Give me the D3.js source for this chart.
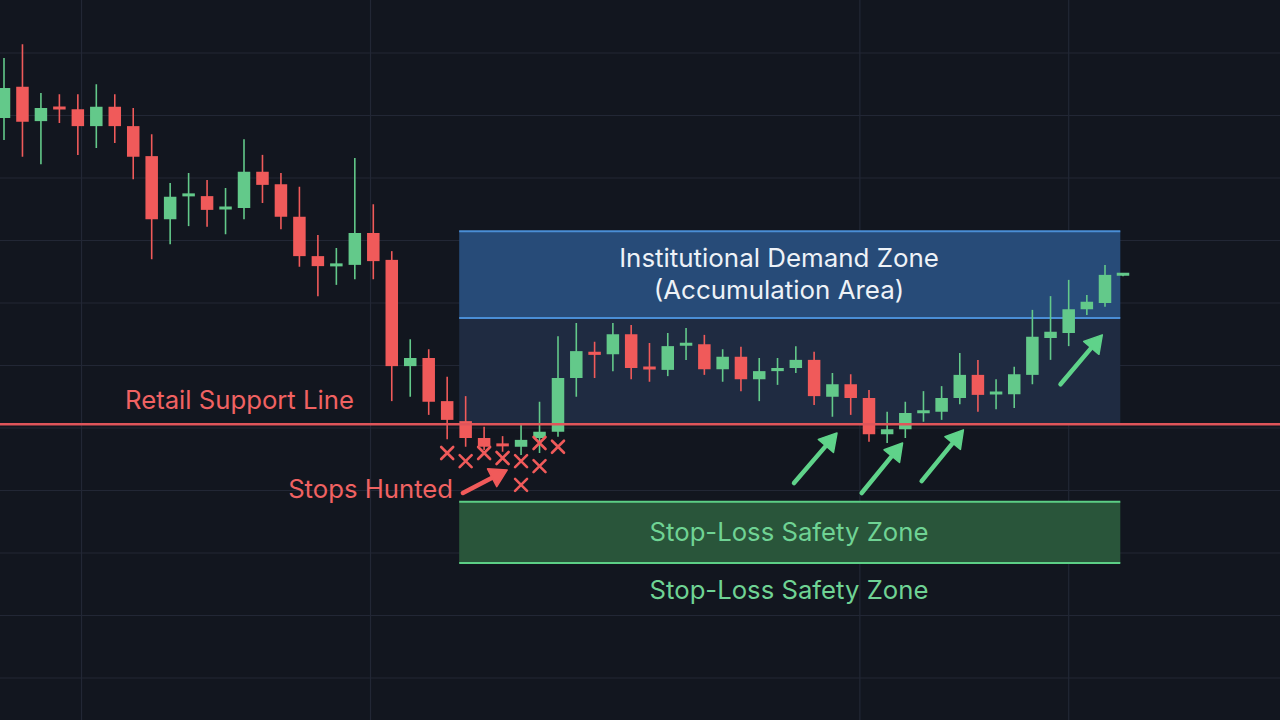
<!DOCTYPE html>
<html><head><meta charset="utf-8">
<script src="https://cdn.jsdelivr.net/npm/d3@7"></script>
<style>
html,body{margin:0;padding:0;background:#12161f;}
svg{display:block;}
text{font-family:Inter,"Noto Sans",sans-serif;}
</style></head>
<body>
<svg id="chart" width="1280" height="720"></svg>
<script>
// ---- data ----
const opens  = [149.6,154.6,149.1,151.2,151.0,148.3,151.4,148.3,143.5,133.4,137.0,137.1,134.9,135.2,141.0,139.0,133.8,127.5,125.9,126.1,131.2,126.9,109.9,111.2,104.3,101.1,98.4,97.3,97.0,98.4,99.4,108.0,112.2,111.8,115.0,109.6,109.3,113.0,113.4,109.4,111.4,107.8,109.1,109.6,110.9,105.0,107.0,104.8,99.0,99.8,102.2,102.6,104.8,108.5,105.3,105.4,108.5,114.4,115.2,119.0,120.0,124.3];
const highs  = [159.2,161.4,153.6,153.4,153.4,155.0,153.4,151.2,147.0,139.2,140.8,139.7,138.4,146.2,143.7,140.8,138.6,130.9,128.8,143.2,135.8,128.3,114.2,112.6,108.2,105.1,100.2,98.7,100.6,104.2,114.7,116.8,113.8,116.8,116.5,113.6,115.2,116.0,114.9,112.6,113.0,111.2,111.2,113.1,112.2,108.8,108.6,106.1,102.6,104.2,105.9,106.7,112.0,110.9,107.8,109.8,118.9,121.1,123.7,121.3,126.1,124.6];
const lows   = [146.1,143.4,142.2,148.8,143.7,144.8,145.6,139.8,127.0,129.4,132.3,132.2,131.0,133.4,136.0,131.8,125.8,121.1,122.9,123.8,123.8,104.3,105.0,102.1,98.2,97.0,96.5,96.2,95.7,96.0,98.6,105.0,108.0,109.1,107.8,107.4,108.3,110.9,108.5,107.4,105.9,104.3,106.9,108.8,103.7,101.8,102.1,97.8,97.6,98.4,101.0,101.3,103.8,102.6,103.0,103.2,107.0,110.9,113.1,118.1,119.4,124.3];
const closes = [154.4,149.0,151.2,150.9,148.3,151.4,148.3,143.4,133.4,137.0,137.3,134.9,135.2,141.0,138.9,133.8,127.5,125.9,126.1,131.2,126.7,109.9,111.2,104.2,101.3,98.4,97.0,97.0,98.1,99.4,108.0,112.3,111.7,115.0,109.6,109.4,113.1,113.4,109.4,111.4,107.8,109.1,109.6,110.9,105.1,107.0,104.8,99.0,99.8,102.4,102.6,104.8,108.5,105.3,105.6,108.6,114.6,115.4,119.0,120.2,124.5,124.6];

const gridPrices = [40,50,60,70,80,90,100,110,120,130,140,150,160];
const gridIndices = [4.2,19.85,46.5,58.0];

const supportPrice = 100.6;
const demandTop = 131.5, demandMid = 117.6, demandBottom = 100.6;
const safetyTop = 88.2, safetyBottom = 78.4;
const zoneStart = 24.65, zoneEnd = 60.85;

const stopMarks = [[24,96.0],[25,94.7],[26,96.0],[27,95.2],[28,94.7],[29,93.9],[28,90.9],[29,97.6],[30,97.0]];
const redArrows = [[24.85,89.6,27.25,93.3]];
const greenArrows = [[42.9,91.2,45.25,99.2],[46.6,89.6,48.85,97.6],[49.9,91.5,52.2,99.7],[57.55,107.0,59.85,114.9]];

const labels = {
  demand1: "Institutional Demand Zone",
  demand2: "(Accumulation Area)",
  support: "Retail Support Line",
  stops: "Stops Hunted",
  safety: "Stop-Loss Safety Zone"
};

// ---- drawing ----
const W = 1280, H = 720;
const svg = d3.select("#chart");
const x = d3.scaleLinear().domain([0, 13, 30, 47, 60, 61]).range([4, 244, 558, 869, 1105, 1123]);
const y = d3.scaleLinear().domain([40, 160]).range([803, 53]);

const GREEN = "#63c98a", RED = "#f05a5a";
const candles = opens.map((o, i) => ({i, o, h: highs[i], l: lows[i], c: closes[i]}));

svg.append("rect").attr("width", W).attr("height", H).attr("fill", "#12161f");

// grid
svg.append("g").selectAll("line").data(gridPrices).join("line")
  .attr("x1", 0).attr("x2", W).attr("y1", d => y(d)).attr("y2", d => y(d))
  .attr("stroke", "#222735").attr("stroke-width", 1.2);
svg.append("g").selectAll("line").data(gridIndices).join("line")
  .attr("y1", 0).attr("y2", H).attr("x1", d => x(d)).attr("x2", d => x(d))
  .attr("stroke", "#222735").attr("stroke-width", 1.2);

// zones
const zx0 = x(zoneStart), zx1 = x(zoneEnd);
svg.append("rect").attr("x", zx0).attr("width", zx1 - zx0)
  .attr("y", y(demandTop)).attr("height", y(demandMid) - y(demandTop))
  .attr("fill", "#274b78");
svg.append("rect").attr("x", zx0).attr("width", zx1 - zx0)
  .attr("y", y(demandMid)).attr("height", y(demandBottom) - y(demandMid))
  .attr("fill", "#1f2b41");
[demandTop, demandMid].forEach(p => {
  svg.append("line").attr("x1", zx0).attr("x2", zx1).attr("y1", y(p)).attr("y2", y(p))
    .attr("stroke", "#4a8ed6").attr("stroke-width", 2);
});
svg.append("rect").attr("x", zx0).attr("width", zx1 - zx0)
  .attr("y", y(safetyTop)).attr("height", y(safetyBottom) - y(safetyTop))
  .attr("fill", "#29553a");
[safetyTop, safetyBottom].forEach(p => {
  svg.append("line").attr("x1", zx0).attr("x2", zx1).attr("y1", y(p)).attr("y2", y(p))
    .attr("stroke", "#5ccf86").attr("stroke-width", 2);
});

// candles
const bw = 12.5;
const cg = svg.append("g");
cg.selectAll("line").data(candles).join("line")
  .attr("x1", d => x(d.i)).attr("x2", d => x(d.i))
  .attr("y1", d => y(d.h)).attr("y2", d => y(d.l))
  .attr("stroke", d => d.c >= d.o ? GREEN : RED).attr("stroke-width", 1.6);
cg.selectAll("rect").data(candles).join("rect")
  .attr("x", d => x(d.i) - bw / 2).attr("width", bw)
  .attr("y", d => Math.min(y(d.o), y(d.c)) - (Math.abs(y(d.o) - y(d.c)) < 3 ? 1.5 : 0))
  .attr("height", d => Math.max(3, Math.abs(y(d.o) - y(d.c))))
  .attr("fill", d => d.c >= d.o ? GREEN : RED);

// support line
svg.append("line").attr("x1", 0).attr("x2", W).attr("y1", y(supportPrice)).attr("y2", y(supportPrice))
  .attr("stroke", "#e0555a").attr("stroke-width", 2.6);

// stop marks
const xs = 6;
svg.append("g").selectAll("path").data(stopMarks).join("path")
  .attr("d", d => {
    const cx = x(d[0]), cy = y(d[1]);
    return `M${cx - xs},${cy - xs}L${cx + xs},${cy + xs}M${cx - xs},${cy + xs}L${cx + xs},${cy - xs}`;
  })
  .attr("stroke", "#f05a5a").attr("stroke-width", 2.6).attr("stroke-linecap", "round").attr("fill", "none");

// arrows
function drawArrow(a, color) {
  const x1 = x(a[0]), y1 = y(a[1]), x2 = x(a[2]), y2 = y(a[3]);
  const ang = Math.atan2(y2 - y1, x2 - x1);
  const hl = 17, hw = 10;
  const bx = x2 - hl * Math.cos(ang), by = y2 - hl * Math.sin(ang);
  svg.append("line").attr("x1", x1).attr("y1", y1).attr("x2", bx).attr("y2", by)
    .attr("stroke", color).attr("stroke-width", 4.5).attr("stroke-linecap", "round");
  const px = -Math.sin(ang), py = Math.cos(ang);
  svg.append("path")
    .attr("d", `M${x2},${y2}L${bx + px * hw},${by + py * hw}L${bx - px * hw},${by - py * hw}Z`)
    .attr("fill", color).attr("stroke", color).attr("stroke-width", 1.5).attr("stroke-linejoin", "round");
}
redArrows.forEach(a => drawArrow(a, "#f05a5a"));
greenArrows.forEach(a => drawArrow(a, "#5fd38a"));

// labels
const fs = 25.7;
svg.append("text").attr("x", 779).attr("y", 267).attr("text-anchor", "middle")
  .attr("fill", "#eef2f7").attr("font-size", 25.9).text(labels.demand1);
svg.append("text").attr("x", 779).attr("y", 299).attr("text-anchor", "middle")
  .attr("fill", "#eef2f7").attr("font-size", 25.9).text(labels.demand2);
svg.append("text").attr("x", 125).attr("y", 409)
  .attr("fill", "#f06262").attr("font-size", fs).text(labels.support);
svg.append("text").attr("x", 453).attr("y", 498).attr("text-anchor", "end")
  .attr("fill", "#f06262").attr("font-size", fs).text(labels.stops);
svg.append("text").attr("x", 789).attr("y", 541).attr("text-anchor", "middle")
  .attr("fill", "#6fd394").attr("font-size", fs).text(labels.safety);
svg.append("text").attr("x", 789).attr("y", 599).attr("text-anchor", "middle")
  .attr("fill", "#6fd394").attr("font-size", fs).text(labels.safety);
</script>
</body></html>
